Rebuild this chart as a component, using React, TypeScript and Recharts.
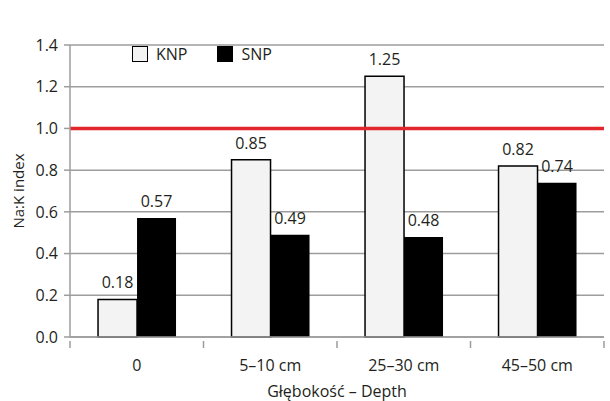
import React from 'react';
import {
  BarChart,
  Bar,
  XAxis,
  YAxis,
  CartesianGrid,
  Legend,
  LabelList,
  ReferenceLine,
  Label,
} from 'recharts';

// --- data ---
const categories = ['0', '5–10 cm', '25–30 cm', '45–50 cm'];
const knpValues = [0.18, 0.85, 1.25, 0.82];
const snpValues = [0.57, 0.49, 0.48, 0.74];
const yTicks = [0, 0.2, 0.4, 0.6, 0.8, 1.0, 1.2, 1.4];
const threshold = 1.0;

const data = categories.map((depth, i) => ({
  depth,
  KNP: knpValues[i],
  SNP: snpValues[i],
}));

const FONT = '"Open Sans", sans-serif';
const TEXT = '#231f20';
const GRID = '#9d9d9d';

// tick marks sit between categories, label in the middle
const DepthTick = (props: any) => {
  const { x, y, payload, index, visibleTicksCount } = props;
  const half = payload?.offset ?? 0;
  const last = index === visibleTicksCount - 1;
  return (
    <g>
      <line x1={x - half} x2={x - half} y1={y - 4} y2={y + 3} stroke={GRID} strokeWidth={1.5} />
      {last && (
        <line x1={x + half} x2={x + half} y1={y - 4} y2={y + 3} stroke={GRID} strokeWidth={1.5} />
      )}
      <text x={x} y={y + 26} textAnchor="middle" fontSize={16} fill={TEXT}>
        {payload.value}
      </text>
    </g>
  );
};

const LegendBox = () => (
  <div style={{ display: 'flex', alignItems: 'center', fontSize: 16, color: TEXT, fontFamily: FONT }}>
    <span style={{ width: 14, height: 14, background: '#f3f3f3', border: '1.5px solid #000', marginRight: 8 }} />
    <span style={{ marginRight: 30 }}>KNP</span>
    <span style={{ width: 16, height: 16, background: '#000', marginRight: 8 }} />
    <span>SNP</span>
  </div>
);

export default function App() {
  return (
    <div style={{ position: 'absolute', left: 0, top: 0, width: 610, height: 401, background: '#fff', fontFamily: FONT }}>
      <BarChart
        width={610}
        height={401}
        data={data}
        margin={{ top: 23, right: 6, left: 0, bottom: 0 }}
        barCategoryGap="21%"
        barGap={0}
      >
        <CartesianGrid vertical={false} stroke={GRID} strokeWidth={1.5} />
        <XAxis
          dataKey="depth"
          height={64}
          axisLine={{ stroke: GRID, strokeWidth: 1.5 }}
          tickLine={false}
          tick={<DepthTick />}
          interval={0}
        >
          <Label value="Głębokość – Depth" position="insideBottom" offset={4} fontSize={16} fill={TEXT} />
        </XAxis>
        <YAxis
          width={70}
          domain={[0, 1.4]}
          ticks={yTicks}
          tickFormatter={(v: number) => v.toFixed(1)}
          tick={{ fill: TEXT, fontSize: 16 }}
          tickMargin={6}
          tickSize={6}
          axisLine={{ stroke: GRID, strokeWidth: 1.5 }}
          tickLine={{ stroke: GRID, strokeWidth: 1.5 }}
        >
          <Label
            content={(p: any) => {
              const vb = p.viewBox || {};
              const cx = 18;
              const cy = (vb.y ?? 0) + (vb.height ?? 0) / 2;
              return (
                <text x={cx} y={cy} transform={`rotate(-90 ${cx} ${cy})`} textAnchor="middle" dominantBaseline="central" fontSize={15} fill={TEXT}>
                  Na:K index
                </text>
              );
            }}
          />
        </YAxis>
        <Legend
          verticalAlign="top"
          content={<LegendBox />}
          wrapperStyle={{ position: 'absolute', left: 132, top: 43, width: 'auto' }}
        />
        <Bar dataKey="KNP" fill="#f3f3f3" stroke="#000" strokeWidth={1.5} isAnimationActive={false}>
          <LabelList dataKey="KNP" position="top" offset={11} fontSize={16} fill={TEXT} formatter={(v: any) => Number(v).toFixed(2)} />
        </Bar>
        <Bar dataKey="SNP" fill="#000" isAnimationActive={false}>
          <LabelList dataKey="SNP" position="top" offset={11} fontSize={16} fill={TEXT} formatter={(v: any) => Number(v).toFixed(2)} />
        </Bar>
        <ReferenceLine y={threshold} stroke="#e3262b" strokeWidth={3.5} />
      </BarChart>
    </div>
  );
}
